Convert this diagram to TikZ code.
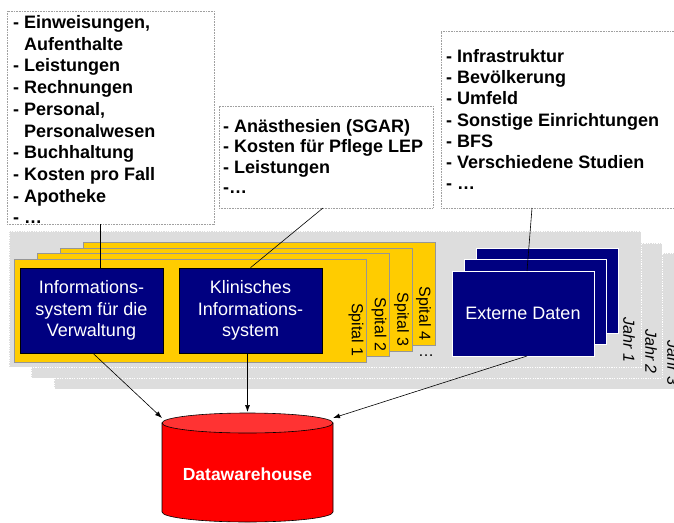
\documentclass[tikz,border=0pt]{standalone}
\usepackage{fontspec}
\setmainfont{Liberation Sans}
\usetikzlibrary{arrows.meta}
\definecolor{navyblue}{RGB}{0,0,128}
\definecolor{cardyellow}{RGB}{255,204,0}
\definecolor{cardedge}{RGB}{150,150,150}
\definecolor{layergray}{RGB}{221,221,221}
\definecolor{listedge}{RGB}{160,160,160}
\definecolor{dwred}{RGB}{255,0,0}
\definecolor{dwtop}{RGB}{255,51,51}
\begin{document}
\begin{tikzpicture}[x=1pt,y=-1pt,
 box/.style={anchor=north west, inner sep=0pt, outer sep=0pt},
 layerbox/.style={box, draw=white, fill=layergray, line width=0.8pt, dash pattern=on 1.2pt off 1.2pt},
 spitalbox/.style={box, draw=cardedge, fill=cardyellow, line width=0.8pt, minimum width=352pt, minimum height=103pt},
 sysbox/.style={draw=black, fill=navyblue, line width=0.6pt, minimum width=143pt, minimum height=85pt, text=white, align=center, font=\fontsize{18pt}{21.6pt}\selectfont, inner sep=0pt},
 extbox/.style={box, draw=white, fill=navyblue, line width=1pt, minimum width=142pt, minimum height=85pt, text=white, font=\fontsize{18pt}{21.6pt}\selectfont},
 listbox/.style={box, draw=listedge, fill=white, line width=0.6pt, dash pattern=on 0.8pt off 0.8pt},
 listtext/.style={anchor=base west, inner sep=0pt, align=left, font=\fontsize{18pt}{#1}\selectfont\bfseries},
 vlabel/.style={rotate=-90, inner sep=0pt, font=\fontsize{16pt}{19pt}\selectfont},
 jlabel/.style={vlabel, font=\fontsize{16pt}{19pt}\selectfont\itshape},
 conn/.style={draw=black, line width=0.6pt},
 arr/.style={conn, -{Latex[length=7pt,width=5pt]}},
]
\useasboundingbox (0,0) rectangle (674,522);
\clip (0,0) rectangle (674,522);
\fill[white] (0,0) rectangle (674,522);

% year layers
\node[layerbox, minimum width=640pt, minimum height=136pt] (l3) at (54,253) {};
\node[layerbox, minimum width=631pt, minimum height=135pt] (l2) at (31,243) {};
\node[layerbox, minimum width=632pt, minimum height=136pt] (l1) at (9,231) {};

% hospital cards
\node[spitalbox] (s4) at (83,242) {};
\node[spitalbox] (s3) at (60,248) {};
\node[spitalbox] (s2) at (37,253) {};
\node[spitalbox] (s1) at (14,259) {};
\node[vlabel] (t4) at (423.5,313.5) {Spital 4};
\node[vlabel] (t3) at (401.5,319.5) {Spital 3};
\node[vlabel] (t2) at (379,324.5) {Spital 2};
\node[vlabel] (t1) at (356,330) {Spital 1};
\node[font=\fontsize{16pt}{19pt}\selectfont, inner sep=0pt, anchor=base] (tdots) at (426,356) {…};

% systems
\node[sysbox] (iv) at (91.5,310.5) {Informations-\\system für die\\Verwaltung};
\node[sysbox] (kis) at (250.5,310.5) {Klinisches\\Informations-\\system};

% external data
\node[extbox] (e3) at (476,248) {};
\node[extbox] (e2) at (464,259) {};
\node[extbox] (ext) at (452,271) {Externe Daten};
\node[jlabel] (j1) at (629,340) {Jahr 1};
\node[jlabel] (j2) at (651,351.5) {Jahr 2};
\node[jlabel] (j3) at (673,363) {Jahr 3};

% list boxes
\node[listbox, minimum width=207pt, minimum height=213pt] (b1) at (7,11) {};
\node[listbox, minimum width=214pt, minimum height=102pt] (b2) at (219,106) {};
\node[listbox, minimum width=260pt, minimum height=177pt] (b3) at (441,31) {};
\node[listtext=21.7pt] (b1t) at (13,223.8) {- Einweisungen,\\\hspace*{11pt}Aufenthalte\\- Leistungen\\- Rechnungen\\- Personal,\\\hspace*{11pt}Personalwesen\\- Buchhaltung\\- Kosten pro Fall\\- Apotheke\\- …};
\node[listtext=20.3pt] (b2t) at (223,193.4) {- Anästhesien (SGAR)\\- Kosten für Pflege LEP\\- Leistungen\\-…};
\node[listtext=21.2pt] (b3t) at (446,189.7) {- Infrastruktur\\- Bevölkerung\\- Umfeld\\- Sonstige Einrichtungen\\- BFS\\- Verschiedene Studien\\- …};

% data warehouse
\fill[dwred, draw=black, line width=0.6pt] (162,423) -- (162,512) arc[start angle=180, end angle=360, x radius=85.5pt, y radius=10pt] -- (333,423) -- cycle;
\filldraw[fill=dwtop, draw=black, line width=0.6pt] (247.5,423) ellipse [x radius=85.5pt, y radius=10pt];
\node[text=white, font=\fontsize{17.5pt}{21pt}\selectfont\bfseries, inner sep=0pt] (dwh) at (247.5,474) {Datawarehouse};
\coordinate (dwL) at (162,418);
\coordinate (dwT) at (247.5,412);
\coordinate (dwR) at (333,418);

% connectors
\draw[conn] ([xshift=-10.5pt]b1.south) -- ([xshift=8.5pt]iv.north);
\draw[conn] ([xshift=-3pt]b2.south) -- (kis.north);
\draw[conn] ([xshift=-39pt]b3.south) -- ([xshift=4pt]ext.north);
\draw[arr] ([xshift=1.5pt]iv.south) -- (dwL);
\draw[arr] (kis.south -| dwT) -- (dwT);
\draw[arr] ([xshift=4pt]ext.south) -- (dwR);
\end{tikzpicture}
\end{document}
